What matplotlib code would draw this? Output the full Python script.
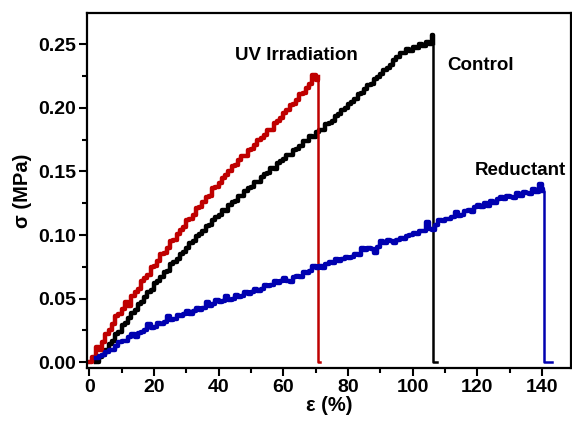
import matplotlib
matplotlib.use("Agg")
import matplotlib.pyplot as plt
from matplotlib.ticker import MultipleLocator

plt.rcParams['font.family'] = ['Liberation Sans', 'DejaVu Sans']
plt.rcParams['font.weight'] = 'bold'

# UV Irradiation (rojo): deformacion (%) y esfuerzo (MPa)
uv_strain = list(range(0, 71)) + [70.6, 70.7, 71.3]
uv_stress = [0.000, 0.004, 0.012, 0.010, 0.016, 0.022, 0.025, 0.030, 0.036, 0.038,
             0.042, 0.047, 0.044, 0.052, 0.055, 0.058, 0.064, 0.066, 0.069, 0.075,
             0.076, 0.080, 0.085, 0.086, 0.090, 0.095, 0.096, 0.101, 0.104, 0.106,
             0.112, 0.113, 0.116, 0.121, 0.122, 0.126, 0.130, 0.131, 0.137, 0.138,
             0.141, 0.145, 0.147, 0.150, 0.154, 0.155, 0.159, 0.162, 0.162, 0.167,
             0.168, 0.171, 0.175, 0.176, 0.179, 0.183, 0.183, 0.188, 0.190, 0.192,
             0.196, 0.198, 0.202, 0.203, 0.206, 0.211, 0.212, 0.216, 0.219, 0.226,
             0.222, 0.224, 0.000, 0.000]

# Control (negro)
ctrl_strain = list(range(2, 107)) + [106.2, 106.3, 107.5]
ctrl_stress = [0.000, 0.004, 0.006, 0.010, 0.014, 0.017, 0.022, 0.024,
               0.029, 0.031, 0.035, 0.039, 0.041, 0.046, 0.047, 0.051, 0.055, 0.057,
               0.062, 0.064, 0.067, 0.071, 0.072, 0.077, 0.079, 0.081, 0.085, 0.087,
               0.090, 0.094, 0.095, 0.099, 0.101, 0.103, 0.107, 0.108, 0.112, 0.114,
               0.116, 0.120, 0.119, 0.124, 0.126, 0.127, 0.131, 0.131, 0.135, 0.137,
               0.138, 0.142, 0.142, 0.146, 0.148, 0.149, 0.153, 0.152, 0.157, 0.158,
               0.160, 0.163, 0.163, 0.167, 0.168, 0.170, 0.174, 0.174, 0.178, 0.177,
               0.181, 0.183, 0.183, 0.187, 0.188, 0.190, 0.194, 0.195, 0.198, 0.200,
               0.203, 0.205, 0.207, 0.211, 0.212, 0.215, 0.218, 0.219, 0.223, 0.224,
               0.227, 0.230, 0.231, 0.234, 0.238, 0.240, 0.243, 0.243, 0.246, 0.245,
               0.248, 0.247, 0.250, 0.249, 0.252, 0.250, 0.257,
               0.251, 0.000, 0.000]

# Reductant (azul)
red_strain = list(range(2, 141)) + [140.4, 140.5, 143.0]
red_stress = [0.003, 0.005, 0.006, 0.008, 0.010, 0.010, 0.013, 0.016,
              0.017, 0.017, 0.020, 0.022, 0.020, 0.023, 0.024, 0.025, 0.030, 0.027,
              0.028, 0.031, 0.030, 0.032, 0.036, 0.033, 0.034, 0.037, 0.036, 0.038,
              0.040, 0.038, 0.040, 0.043, 0.041, 0.043, 0.047, 0.044, 0.046, 0.049,
              0.047, 0.048, 0.052, 0.049, 0.050, 0.053, 0.051, 0.052, 0.055, 0.054,
              0.055, 0.058, 0.056, 0.058, 0.061, 0.060, 0.061, 0.064, 0.062, 0.064,
              0.066, 0.064, 0.063, 0.067, 0.068, 0.067, 0.071, 0.070, 0.072, 0.076,
              0.074, 0.076, 0.074, 0.077, 0.079, 0.078, 0.081, 0.080, 0.081, 0.083,
              0.082, 0.083, 0.085, 0.084, 0.090, 0.088, 0.090, 0.089, 0.086, 0.091,
              0.095, 0.094, 0.096, 0.095, 0.094, 0.096, 0.098, 0.097, 0.099, 0.100,
              0.102, 0.101, 0.103, 0.103, 0.110, 0.105, 0.104, 0.108, 0.112, 0.111,
              0.113, 0.113, 0.114, 0.118, 0.115, 0.116, 0.119, 0.120, 0.118, 0.122,
              0.124, 0.122, 0.125, 0.123, 0.127, 0.125, 0.128, 0.130, 0.128, 0.131,
              0.130, 0.129, 0.133, 0.131, 0.134, 0.133, 0.132, 0.136, 0.134, 0.140,
              0.136, 0.135, 0.000, 0.000]

fig = plt.figure(figsize=(5.72, 4.21), dpi=100)
ax = fig.add_axes([87/572, 53/421, 484/572, 355/421])

# curva completa con linea fina (incluye la caida), luego la parte de carga mas gruesa
for x, y, c in [(ctrl_strain, ctrl_stress, 'black'),
                (uv_strain, uv_stress, '#bf0000'),
                (red_strain, red_stress, '#0000b0')]:
    ax.plot(x, y, color=c, lw=1.8, drawstyle='steps-post')
    ax.plot(x[:-2], y[:-2], color=c, lw=3.2, drawstyle='steps-post')

ax.text(45.1, 0.2408, 'UV Irradiation', fontsize=13.5, fontweight='bold', va='center')
ax.text(110.6, 0.2337, 'Control', fontsize=13.5, fontweight='bold', va='center')
ax.text(119.2, 0.1506, 'Reductant', fontsize=13.5, fontweight='bold', va='center')

ax.set_xlim(-0.7, 149)
ax.set_ylim(-0.0045, 0.2746)
ax.xaxis.set_major_locator(MultipleLocator(20))
ax.xaxis.set_minor_locator(MultipleLocator(10))
ax.yaxis.set_major_locator(MultipleLocator(0.05))
ax.yaxis.set_minor_locator(MultipleLocator(0.025))
ax.yaxis.set_major_formatter(plt.FormatStrFormatter('%.2f'))

ax.tick_params(which='major', direction='out', length=6, width=1.5, labelsize=14, pad=2)
ax.tick_params(which='minor', direction='out', length=3.5, width=1.5)
for lab in ax.get_xticklabels() + ax.get_yticklabels():
    lab.set_fontweight('bold')
for s in ax.spines.values():
    s.set_linewidth(1.6)

ax.set_xlabel('ε (%)', fontsize=14.5, fontweight='bold', labelpad=0)
ax.set_ylabel('σ (MPa)', fontsize=14.5, fontweight='bold', labelpad=4)

fig.savefig('out.png', dpi=100)
